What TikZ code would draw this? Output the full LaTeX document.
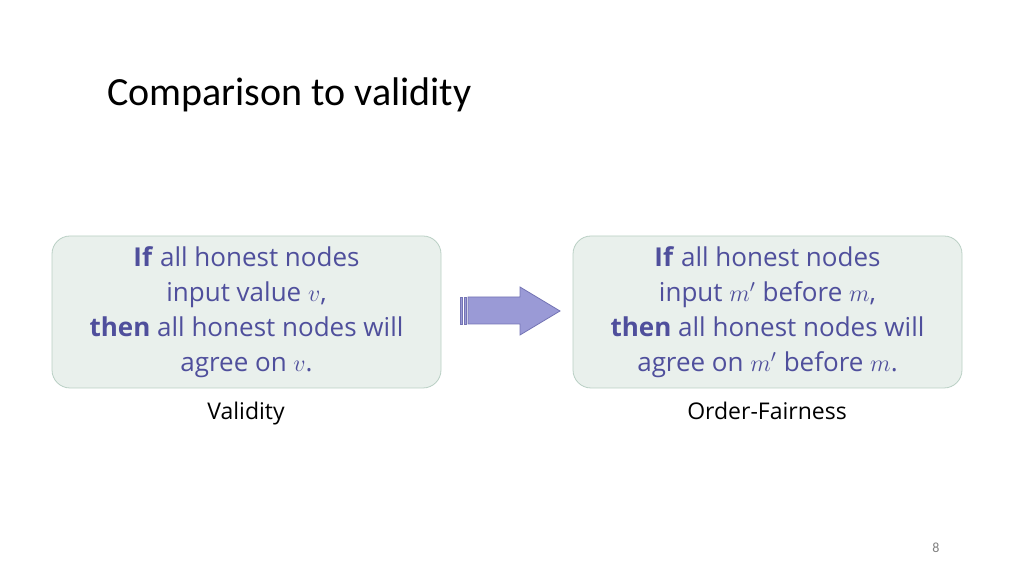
\documentclass[tikz,border=0pt]{standalone}
\usepackage{fontspec}
\setmainfont{Open Sans}
\newfontfamily\titlefont{Carlito}
\definecolor{boxfill}{HTML}{E9F0EC}
\definecolor{boxline}{HTML}{B9CFC4}
\definecolor{ink}{HTML}{4F4F9C}
\definecolor{arrowfill}{HTML}{9A9AD6}
\definecolor{arrowline}{HTML}{7474B4}

\begin{document}
\begin{tikzpicture}
  [x=0.5pt,y=-0.5pt,
   rule/.style={draw=boxline,fill=boxfill,rounded corners=9pt,minimum width=194.5pt,
     minimum height=76pt,align=center,text=ink,font=\fontsize{13}{17.5}\selectfont},
   caption/.style={font=\fontsize{11.5}{14}\selectfont}]
  \useasboundingbox (0,0) rectangle (1024,576);

  \node[font=\titlefont\fontsize{20}{24}\selectfont,anchor=west] (title) at (100,95) {Comparison to validity};

  \node[rule] (validity) at (246.5,312)
    {\textbf{If} all honest nodes\\ input value $v$,\\ \textbf{then} all honest nodes will\\ agree on $v$.};
  \node[rule] (fairness) at (767.5,312)
    {\textbf{If} all honest nodes\\ input $m'$ before $m$,\\ \textbf{then} all honest nodes will\\ agree on $m'$ before $m$.};

  \node[caption] (validity label) at (246,414) {Validity};
  \node[caption] (fairness label) at (767,411) {Order-Fairness};

  % block arrow with striped tail
  \filldraw[fill=arrowfill,draw=arrowline,thin]
    (468,297) -- (520,297) -- (520,287) -- (560,311) -- (520,335) -- (520,324) -- (468,324) -- cycle;
  \foreach \x in {460,464}
    \filldraw[fill=arrowfill,draw=arrowline,thin] (\x,297) rectangle +(2,27);

  \node[font=\titlefont\fontsize{7}{8}\selectfont,text=gray] (page) at (936,548) {8};
\end{tikzpicture}
\end{document}
